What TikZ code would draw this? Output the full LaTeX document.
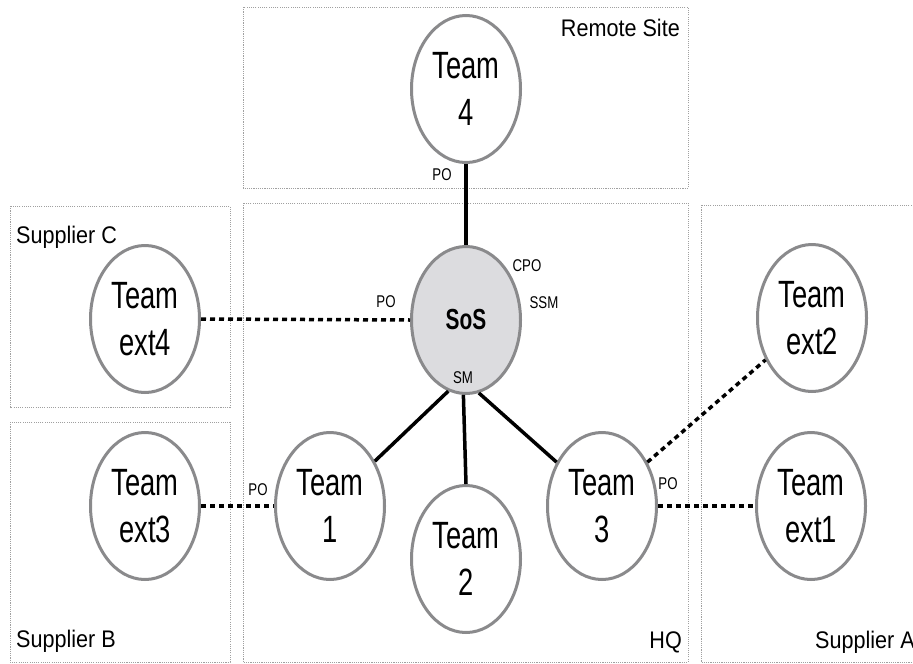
\documentclass[tikz,border=0pt]{standalone}
\usepackage{fontspec}
\setmainfont{Liberation Sans}
\newfontfamily\fteam[FakeStretch=0.72]{Liberation Sans}
\newfontfamily\fzone[FakeStretch=0.9]{Liberation Sans}
\newfontfamily\fsmall[FakeStretch=0.78]{Liberation Sans}
\usetikzlibrary{shapes.geometric}
\definecolor{rim}{HTML}{8A8A8C}
\definecolor{zoneline}{HTML}{A0A0A0}
\definecolor{sosfill}{HTML}{DCDCDF}

\begin{document}
\begin{tikzpicture}[x=1pt,y=-1pt,
  team/.style={ellipse, draw=rim, line width=3pt, minimum width=109pt,
    minimum height=147pt, inner sep=0pt, align=center,
    font=\fteam\fontsize{38}{47.5}\selectfont},
  zone/.style={draw=zoneline, line width=1pt, dash pattern=on 1.1pt off 1.1pt},
  zonelabel/.style={font=\fzone\fontsize{24}{28}\selectfont, inner sep=0pt},
  role/.style={font=\fsmall\fontsize{17}{20}\selectfont, inner sep=0pt},
  link/.style={line width=3.5pt, black},
  extlink/.style={line width=3.5pt, black, dash pattern=on 5pt off 4pt},
]
\clip (0,0) rectangle (913,664);
\fill[white] (0,0) rectangle (913,664);

% sites
\draw[zone] (243,7) rectangle (688,188);
\draw[zone] (243,203) rectangle (688,662);
\draw[zone] (10,206) rectangle (230,407);
\draw[zone] (10,422) rectangle (230,662);
\draw[zone] (701,205) rectangle (940,662);

\node[zonelabel, anchor=base east] (lremote) at (680,36) {Remote Site};
\node[zonelabel, anchor=base west] (lsupc) at (16,243) {Supplier C};
\node[zonelabel, anchor=base west] (lsupb) at (16,647) {Supplier B};
\node[zonelabel, anchor=base east] (lhq) at (682,648) {HQ};
\node[zonelabel, anchor=base west] (lsupa) at (815,648) {Supplier A};

% teams
\node[team, fill=sosfill, font=\fteam\bfseries\fontsize{29}{34}\selectfont] (sos) at (466,320) {SoS};
\node[team] (t4) at (466,89) {Team\\4};
\node[team] (t1) at (330,506) {Team\\1};
\node[team] (t2) at (466,559) {Team\\2};
\node[team] (t3) at (602,506) {Team\\3};
\node[team] (ext1) at (811,506) {Team\\ext1};
\node[team] (ext2) at (812,318) {Team\\ext2};
\node[team] (ext3) at (145,506) {Team\\ext3};
\node[team] (ext4) at (145,319) {Team\\ext4};

% roles
\node[role] (po4) at (442,175) {PO};
\node[role] (cpo) at (527,266) {CPO};
\node[role] (ssm) at (544,303) {SSM};
\node[role] (posos) at (386,302) {PO};
\node[role] (sm) at (463,378) {SM};
\node[role] (po1) at (258,490) {PO};
\node[role] (po3) at (668,484) {PO};

% internal links
\draw[link] (t4.south) -- (sos.north);
\draw[link] (sos.256) -- (t1.45);
\draw[link] (sos.268) -- (t2.north);
\draw[link] (sos.280) -- (t3.136);

% supplier links
\draw[extlink] (ext4.east) -- (sos.west);
\draw[extlink] (ext3.east) -- (t1.west);
\draw[extlink] (t3.east) -- (ext1.west);
\draw[extlink] (t3.44) -- (ext2.222);
\end{tikzpicture}
\end{document}
